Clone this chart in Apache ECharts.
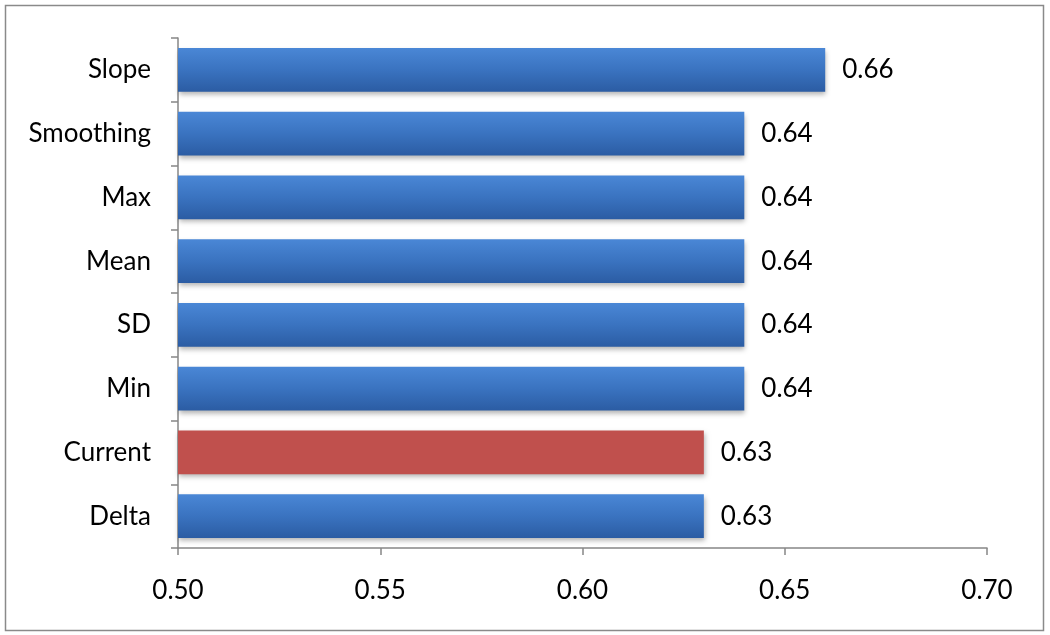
<!DOCTYPE html>
<html>
<head>
<meta charset="utf-8">
<script src="https://cdn.jsdelivr.net/npm/echarts@6/dist/echarts.min.js"></script>
<style>html,body{margin:0;padding:0;background:#fff;}#c{width:1050px;height:635px;}</style>
</head>
<body>
<div id="c"></div>
<script>
const categories = ['Slope', 'Smoothing', 'Max', 'Mean', 'SD', 'Min', 'Current', 'Delta'];
const values = [0.66, 0.64, 0.64, 0.64, 0.64, 0.64, 0.63, 0.63];
const highlight = ['Current'];
const xTicks = { min: 0.5, max: 0.7, interval: 0.05 };

const blue = new echarts.graphic.LinearGradient(0, 0, 0, 1, [
  { offset: 0, color: '#4a87d6' },
  { offset: 0.5, color: '#3a73c0' },
  { offset: 1, color: '#2b5ca3' }
]);
const red = '#c0504d';
const font = 'Lato, "Open Sans", sans-serif';

const chart = echarts.init(document.getElementById('c'), null, { renderer: 'canvas' });
chart.setOption({
  animation: false,
  backgroundColor: '#fff',
  graphic: [{
    type: 'rect',
    shape: { x: 5.5, y: 5.5, width: 1038, height: 625 },
    style: { fill: 'none', stroke: '#8a8a8a', lineWidth: 1.5 },
    z: -1
  }],
  grid: { left: 178, right: 63, top: 38, bottom: 87 },
  xAxis: {
    type: 'value',
    min: xTicks.min, max: xTicks.max, interval: xTicks.interval,
    axisLine: { show: true, lineStyle: { color: '#868686', width: 1.5 } },
    axisTick: { show: true, length: 7, lineStyle: { color: '#868686', width: 1.5 } },
    splitLine: { show: false },
    axisLabel: { color: '#000', fontSize: 26, fontFamily: font, margin: 30,
      formatter: v => v.toFixed(2) }
  },
  yAxis: {
    type: 'category',
    data: categories,
    inverse: true,
    axisLine: { show: true, lineStyle: { color: '#868686', width: 1.5 } },
    axisTick: { show: true, length: 7, lineStyle: { color: '#868686', width: 1.5 } },
    axisLabel: { color: '#000', fontSize: 26, fontFamily: font, margin: 27 }
  },
  series: [{
    type: 'bar',
    barCategoryGap: '31%',
    data: values.map((v, i) => ({
      value: v,
      itemStyle: {
        color: highlight.includes(categories[i]) ? red : blue,
        shadowColor: 'rgba(0,0,0,0.3)', shadowBlur: 5, shadowOffsetY: 3, shadowOffsetX: 1
      }
    })),
    label: {
      show: true, position: 'right', distance: 17, color: '#000',
      fontSize: 26, fontFamily: font,
      formatter: p => p.value.toFixed(2)
    }
  }]
});
</script>
</body>
</html>
